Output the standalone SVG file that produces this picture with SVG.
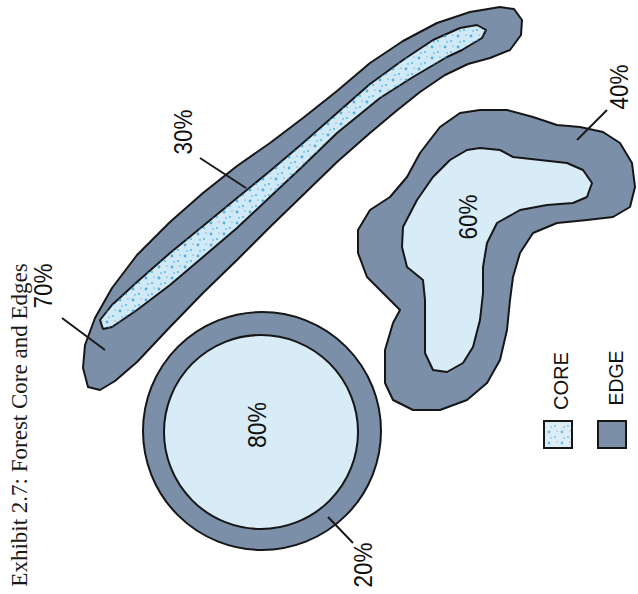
<svg xmlns="http://www.w3.org/2000/svg" width="638" height="594" viewBox="0 0 638 594">
<style>
.edge{fill:#7b8fa9;stroke:#161616;stroke-width:2;stroke-linejoin:round}
.core{fill:#d8ecf7;stroke:#161616;stroke-width:2;stroke-linejoin:round}
.corestrip{fill:#d0e9f6;stroke:#161616;stroke-width:2;stroke-linejoin:round}
.spk{fill:url(#speck);stroke:none}
.lbl{font-family:"Liberation Sans",Arial,sans-serif;font-size:25px;fill:#111;text-anchor:middle}
.leg{font-family:"Liberation Sans",Arial,sans-serif;font-size:20px;fill:#111;text-anchor:middle}
.title{font-family:"Liberation Serif","Times New Roman",serif;font-size:23px;fill:#1a1a1a;text-anchor:middle}
.lead{stroke:#1a1a1a;stroke-width:2;fill:none}
</style>
<defs>
<pattern id="speck" width="13" height="11" patternUnits="userSpaceOnUse">
<circle cx="3" cy="3" r="1.4" fill="#2a9ad8"/>
<circle cx="9" cy="8" r="1.1" fill="#3aa6e0"/>
<circle cx="11" cy="2" r="0.6" fill="#444"/>
<circle cx="5" cy="9" r="0.9" fill="#4ab0e6"/>
</pattern>
</defs>
<rect width="638" height="594" fill="#fff"/>

<g id="title">
<text class="title" transform="translate(27,425) rotate(-90)">Exhibit 2.7: Forest Core and Edges</text>
</g>

<g id="strip-patch">
<path class="edge" d="M88,387 L83,368 L85,345 L95,318 L112,288 L137,255 L170,222 L203,193 L237,166 L270,143 L303,118 L337,91 L370,63 L403,41 L437,23 L470,12 L500,7 L514,9 L522,20 L521,35 L510,50 L490,58 L468,64 L445,75 L420,92 L395,112 L370,133 L337,162 L303,195 L270,227 L237,260 L203,293 L170,327 L137,362 L115,381 L100,390 Z"/>
<path class="corestrip" d="M100,320 L112,305 L137,282 L170,253 L203,226 L237,198 L270,171 L303,143 L337,113 L370,84 L403,60 L433,40 L460,28 L477,25 L486,30 L482,38 L462,50 L447,57 L413,77 L380,98 L337,133 L303,166 L270,197 L237,228 L203,257 L170,285 L137,310 L112,327 L103,329 Z"/>
<path class="spk" opacity="0.75" d="M100,320 L112,305 L137,282 L170,253 L203,226 L237,198 L270,171 L303,143 L337,113 L370,84 L403,60 L433,40 L460,28 L477,25 L486,30 L482,38 L462,50 L447,57 L413,77 L380,98 L337,133 L303,166 L270,197 L237,228 L203,257 L170,285 L137,310 L112,327 L103,329 Z"/>
<text class="lbl" textLength="45" lengthAdjust="spacingAndGlyphs" transform="translate(52,286) rotate(-90)">70%</text>
<text class="lbl" textLength="45" lengthAdjust="spacingAndGlyphs" transform="translate(192,132) rotate(-90)">30%</text>
</g>

<g id="blob-patch">
<path class="edge" d="M480,110 L507,110 L533,117 L557,125 L580,127 L603,132 L620,143 L632,163 L635,187 L630,207 L613,217 L587,220 L557,223 L533,233 L520,253 L513,277 L510,300 L507,330 L500,360 L487,383 L467,400 L440,410 L413,410 L393,400 L385,383 L385,350 L393,323 L400,310 L383,293 L367,277 L358,253 L358,230 L370,210 L390,197 L407,177 L420,153 L440,127 L460,113 Z"/>
<path class="core" d="M480,148 L500,150 L513,157 L540,160 L567,163 L583,170 L592,183 L587,197 L573,203 L547,205 L520,210 L497,223 L487,243 L483,267 L483,293 L480,320 L473,347 L463,363 L447,372 L433,370 L425,353 L425,327 L425,300 L423,280 L407,267 L402,247 L403,227 L417,200 L433,177 L450,160 L467,150 Z"/>
<text class="lbl" textLength="45" lengthAdjust="spacingAndGlyphs" transform="translate(477,217) rotate(-90)">60%</text>
<text class="lbl" textLength="45" lengthAdjust="spacingAndGlyphs" transform="translate(628,87) rotate(-90)">40%</text>
</g>

<g id="circle-patch">
<circle class="edge" cx="262" cy="431" r="119"/>
<circle class="core" cx="261" cy="432" r="97"/>
<text class="lbl" textLength="46" lengthAdjust="spacingAndGlyphs" transform="translate(266,425) rotate(-90)">80%</text>
<text class="lbl" textLength="45" lengthAdjust="spacingAndGlyphs" transform="translate(372,565) rotate(-90)">20%</text>
</g>

<g id="connectors">
<line class="lead" x1="62" y1="318" x2="105" y2="350"/>
<line class="lead" x1="200" y1="158" x2="246" y2="188"/>
<line class="lead" x1="607" y1="110" x2="577" y2="140"/>
<line class="lead" x1="328" y1="517" x2="353" y2="543"/>
</g>

<g id="legend">
<g id="legend-core">
<rect x="544" y="421" width="28" height="27" fill="#dcedf7" stroke="#161616" stroke-width="2"/>
<rect x="545" y="422" width="26" height="25" class="spk" opacity="0.6"/>
<text class="leg" textLength="58" lengthAdjust="spacingAndGlyphs" transform="translate(568,381) rotate(-90)">CORE</text>
</g>
<g id="legend-edge">
<rect x="598" y="421" width="28" height="27" fill="#7b8fa9" stroke="#161616" stroke-width="2"/>
<text class="leg" textLength="55" lengthAdjust="spacingAndGlyphs" transform="translate(623,378) rotate(-90)">EDGE</text>
</g>
</g>
</svg>
